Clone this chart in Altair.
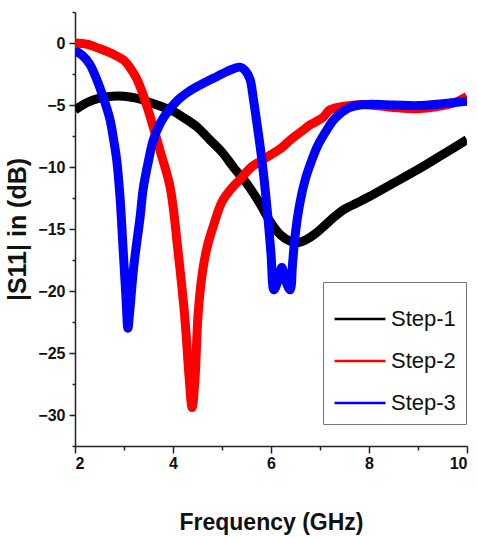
import altair as alt
import pandas as pd

# Return loss curves for the three antenna design steps
freq_1 = [2.0, 2.25, 2.5, 2.75, 3.0, 3.25, 3.5, 3.75, 4.0, 4.25, 4.5, 4.75, 5.0,
          5.25, 5.5, 5.75, 6.0, 6.2, 6.4, 6.55, 6.7, 6.9, 7.1, 7.3, 7.5, 7.75,
          8.0, 8.5, 9.0, 9.5, 10.0]
s11_1 = [-5.4, -4.8, -4.45, -4.3, -4.3, -4.45, -4.75, -5.1, -5.5, -6.1, -6.8,
         -7.8, -8.8, -10.1, -11.3, -12.8, -14.5, -15.5, -16.0, -16.1, -15.9,
         -15.4, -14.7, -14.0, -13.4, -12.9, -12.4, -11.3, -10.2, -9.0, -7.8]

freq_2 = [2.0, 2.25, 2.5, 2.75, 3.0, 3.125, 3.25, 3.375, 3.5, 3.73, 3.94, 4.1,
          4.24, 4.33, 4.39, 4.45, 4.51, 4.6, 4.7, 4.82, 5.0, 5.2, 5.37, 5.6, 5.8,
          6.0, 6.2, 6.4, 6.6, 6.8, 7.06, 7.2, 7.5, 7.88, 8.5, 9.0, 9.5, 9.75,
          10.0]
s11_2 = [0.0, -0.1, -0.45, -0.85, -1.4, -2.0, -2.8, -4.0, -5.5, -8.6, -11.6,
         -16.7, -22.1, -27.0, -29.4, -27.0, -22.0, -18.5, -16.4, -14.8, -12.8,
         -11.7, -11.0, -10.0, -9.5, -9.0, -8.5, -7.8, -7.2, -6.6, -6.0, -5.4,
         -5.1, -4.95, -5.2, -5.3, -5.05, -4.8, -4.3]

freq_3 = [2.0, 2.15, 2.3, 2.45, 2.57, 2.71, 2.78, 2.85, 2.92, 2.98, 3.04, 3.08,
          3.12, 3.2, 3.33, 3.39, 3.5, 3.6, 3.75, 3.88, 4.1, 4.29, 4.5, 4.69, 4.9,
          5.1, 5.25, 5.37, 5.47, 5.57, 5.64, 5.71, 5.78, 5.84, 5.94, 6.0, 6.06,
          6.14, 6.22, 6.3, 6.39, 6.44, 6.49, 6.59, 6.7, 6.8, 6.95, 7.14, 7.3,
          7.55, 7.8, 8.0, 8.5, 9.0, 9.5, 10.0]
s11_3 = [-0.6, -1.0, -1.7, -3.0, -4.3, -6.1, -7.6, -9.4, -12.5, -16.5, -20.5,
         -23.0, -21.5, -18.0, -14.0, -11.8, -9.5, -7.8, -6.4, -5.6, -4.6, -4.0,
         -3.5, -3.1, -2.7, -2.3, -2.05, -1.95, -2.2, -2.9, -4.5, -6.4, -8.4,
         -10.3, -14.2, -17.0, -19.9, -19.2, -18.1, -19.2, -19.9, -17.8, -15.6,
         -12.9, -11.0, -9.8, -8.3, -7.0, -6.1, -5.3, -5.0, -4.95, -5.0, -5.05,
         -4.9, -4.7]

steps = ["Step-1", "Step-2", "Step-3"]
colors = ["#000000", "#ff0000", "#0000ff"]

frames = []
for name, f, v in zip(steps, [freq_1, freq_2, freq_3], [s11_1, s11_2, s11_3]):
    frames.append(pd.DataFrame({"freq": f, "s11": v, "step": name}))
df = pd.concat(frames, ignore_index=True)

FONT = "Liberation Sans"

x_enc = alt.X(
    "freq:Q",
    scale=alt.Scale(domain=[2, 10], nice=False, zero=False),
    axis=alt.Axis(
        title="Frequency (GHz)",
        values=[2, 3, 4, 5, 6, 7, 8, 9, 10],
        labelExpr="datum.value % 2 == 0 ? datum.label : ''",
        tickSize={"condition": {"test": "datum.value % 2 != 0", "value": 4}, "value": 7},
        labelPadding=2,
        titlePadding=40,
    ),
)
y_enc = alt.Y(
    "s11:Q",
    scale=alt.Scale(domain=[-32.5, 2.5], nice=False, zero=False),
    axis=alt.Axis(
        title="|S11| in (dB)",
        values=[-32.5, -30, -27.5, -25, -22.5, -20, -17.5, -15, -12.5, -10,
                -7.5, -5, -2.5, 0, 2.5],
        labelExpr="abs(datum.value) % 5 < 0.1 ? datum.label : ''",
        tickSize={"condition": {"test": "abs(datum.value) % 5 > 0.1", "value": 3}, "value": 6},
        labelPadding=4,
        titlePadding=7,
        titleFontSize=25,
    ),
)

lines = alt.Chart(df).mark_line(
    strokeWidth=9, interpolate="catmull-rom", strokeCap="butt", clip=True
).encode(
    x=x_enc,
    y=y_enc,
    color=alt.Color(
        "step:N",
        scale=alt.Scale(domain=steps, range=colors),
        legend=alt.Legend(
            title=None,
            orient="none",
            legendX=248,
            legendY=270,
            symbolType="stroke",
            symbolStrokeWidth=2.5,
            symbolSize=2600,
            rowPadding=4,
            strokeColor="#777777",
            fillColor="#ffffff",
            padding=10,
            labelFont=FONT,
            labelFontSize=22,
            labelColor="#111111",
        ),
    ),
    order=alt.Order("freq:Q"),
    detail="step:N",
)

chart = lines.properties(
    width=392,
    height=434,
    autosize=alt.AutoSizeParams(type="none"),
    padding={"left": 75, "top": 12, "right": 11, "bottom": 92},
).configure_view(
    stroke=None
).configure_axis(
    grid=False,
    domainColor="#222222",
    domainWidth=1.5,
    tickColor="#222222",
    tickWidth=1.5,
    labelFont=FONT,
    labelFontSize=16,
    labelFontWeight="bold",
    labelColor="#111111",
    titleFont=FONT,
    titleFontSize=23,
    titleFontWeight="bold",
    titleColor="#111111",
)

chart.save("out.html", embed_options={"renderer": "svg", "actions": False})
